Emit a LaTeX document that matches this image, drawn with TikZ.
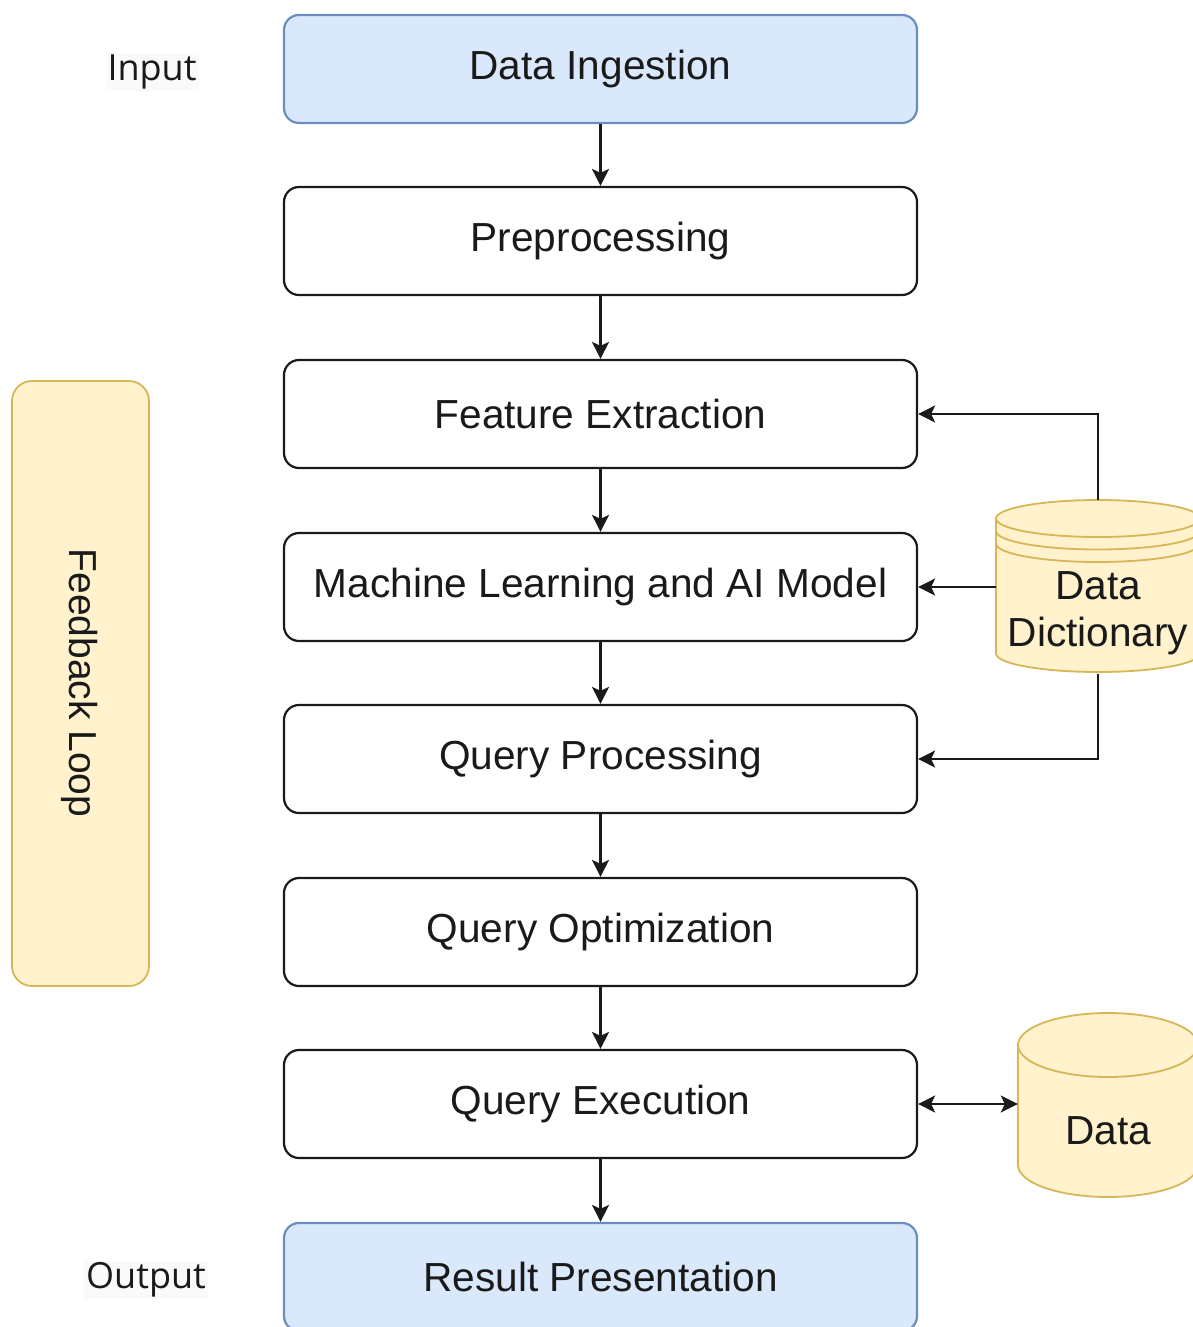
\documentclass[tikz,border=0pt]{standalone}
\usepackage{fontspec}
\setmainfont{Liberation Sans}
\newfontfamily\labelfont{Open Sans}
\usetikzlibrary{arrows.meta}

\definecolor{ink}{HTML}{1A1A1A}
\definecolor{blueFill}{HTML}{DAE8FC}
\definecolor{blueLine}{HTML}{6C8EBF}
\definecolor{yelFill}{HTML}{FFF2CC}
\definecolor{yelLine}{HTML}{D6B656}
\definecolor{labelBg}{HTML}{FAFAFA}

\tikzset{
  tipshape/.tip={Stealth[length=17pt,width=17pt,inset=4pt]},
  stage/.style={draw=ink, line width=2.2pt, rounded corners=15pt, fill=white,
    minimum width=633pt, minimum height=108pt, inner sep=0pt,
    text=ink, font=\fontsize{40.6}{46}\selectfont},
  endstage/.style={stage, draw=blueLine, fill=blueFill},
  flow/.style={draw=ink, line width=2.2pt, -tipshape},
  bothflow/.style={draw=ink, line width=2.2pt, tipshape-tipshape},
  sidelabel/.style={text=ink, fill=labelBg, inner sep=2pt,
    font=\labelfont\fontsize{36}{40}\selectfont},
  store/.style={draw=yelLine, fill=yelFill, line width=1.8pt},
  slot/.style={inner sep=0pt}
}

\begin{document}
\begin{tikzpicture}[x=1pt, y=1pt]
  \useasboundingbox (0,0) rectangle (1192,-1327);

  % main pipeline
  \node[endstage] (ing) at (600.5,-69)   {Data Ingestion};
  \node[stage]    (pre) at (600.5,-241)  {Preprocessing};
  \node[stage]    (fe)  at (600.5,-414)  {Feature Extraction};
  \node[stage]    (ml)  at (600.5,-587)  {Machine Learning and AI Model};
  \node[stage]    (qp)  at (600.5,-759)  {Query Processing};
  \node[stage]    (qo)  at (600.5,-932)  {Query Optimization};
  \node[stage]    (qe)  at (600.5,-1104) {Query Execution};
  \node[endstage] (res) at (600.5,-1277) {Result Presentation};

  % side labels
  \node[sidelabel] (inlbl)  at (152,-72)   {Input};
  \node[sidelabel] (outlbl) at (146,-1280) {Output};

  % feedback loop band
  \draw[store, rounded corners=20pt] (12,-381) rectangle (149,-986);
  \node[rotate=-90, text=ink, font=\fontsize{39}{44}\selectfont] (fb) at (80,-683) {Feedback Loop};

  % data dictionary cylinder
  \draw[store] (996,-518.5) -- (996,-653.5)
    arc[start angle=180, end angle=360, x radius=102pt, y radius=18.5pt]
    -- (1200,-518.5)
    arc[start angle=0, end angle=180, x radius=102pt, y radius=18.5pt] -- cycle;
  \draw[draw=yelLine, line width=1.8pt] (996,-518.5)
    arc[start angle=180, end angle=360, x radius=102pt, y radius=18.5pt];
  \draw[draw=yelLine, line width=1.8pt] (996,-531)
    arc[start angle=180, end angle=360, x radius=102pt, y radius=18.5pt];
  \draw[draw=yelLine, line width=1.8pt] (996,-543.5)
    arc[start angle=180, end angle=360, x radius=102pt, y radius=18.5pt];
  \node[slot, minimum width=204pt, minimum height=174pt] (dd) at (1098,-587) {};
  \node[align=center, text=ink, font=\fontsize{40.6}{47}\selectfont] (ddtxt) at (1098,-613) {Data\\Dictionary};

  % data store cylinder
  \draw[store] (1018,-1045) -- (1018,-1165)
    arc[start angle=180, end angle=360, x radius=90pt, y radius=32pt]
    -- (1198,-1045)
    arc[start angle=0, end angle=180, x radius=90pt, y radius=32pt] -- cycle;
  \draw[draw=yelLine, line width=1.8pt] (1018,-1045)
    arc[start angle=180, end angle=360, x radius=90pt, y radius=32pt];
  \node[slot, minimum width=180pt, minimum height=182pt] (data) at (1108,-1104) {};
  \node[text=ink, font=\fontsize{40.6}{46}\selectfont] (datatxt) at (1108,-1131) {Data};

  % pipeline connectors
  \draw[flow] (ing) -- (pre);
  \draw[flow] (pre) -- (fe);
  \draw[flow] (fe)  -- (ml);
  \draw[flow] (ml)  -- (qp);
  \draw[flow] (qp)  -- (qo);
  \draw[flow] (qo)  -- (qe);
  \draw[flow] (qe)  -- (res);

  % dictionary feeds
  \draw[flow] (dd.north) |- (fe.east);
  \draw[flow] (dd.west)  -- (ml.east);
  \draw[flow] (dd.south) |- (qp.east);

  % execution against the data store
  \draw[bothflow] (qe.east) -- (data.west);
\end{tikzpicture}
\end{document}
